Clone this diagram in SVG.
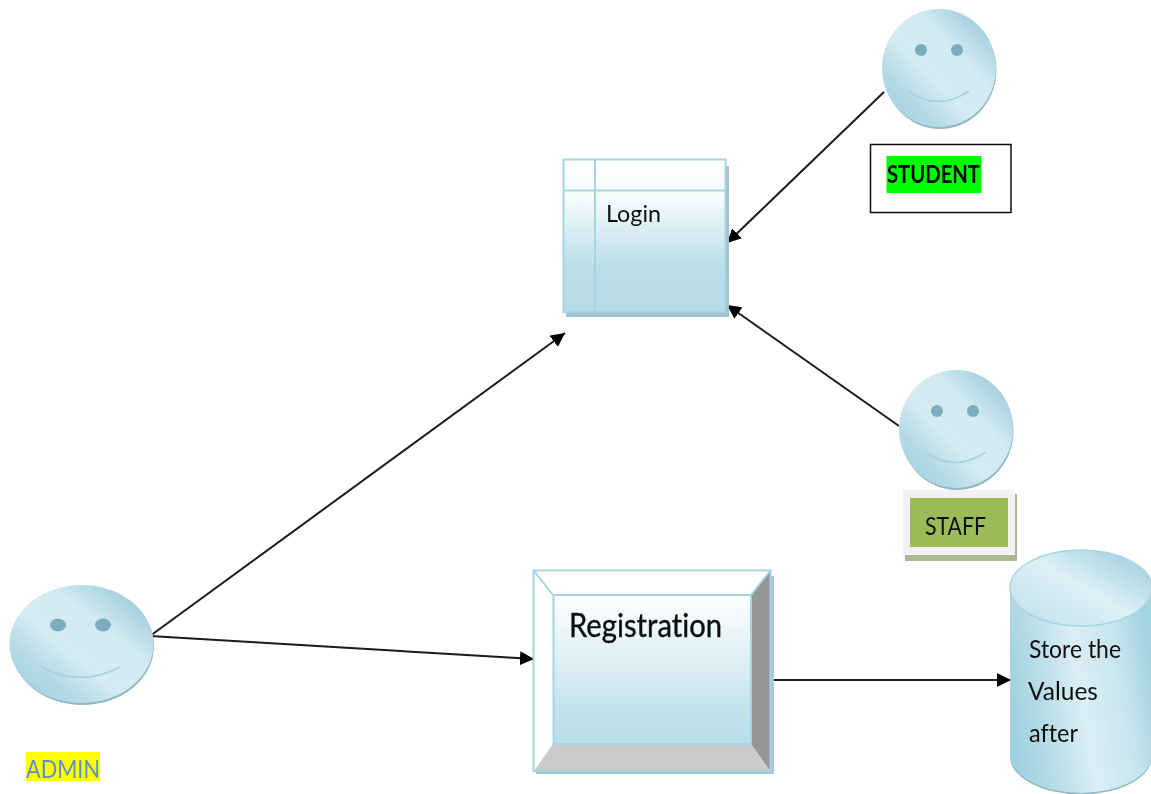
<svg xmlns="http://www.w3.org/2000/svg" width="1151" height="794" viewBox="0 0 1151 794">
<style>
.t{font-family:"Lato","Open Sans","Liberation Sans",sans-serif;fill:#111;font-variant-ligatures:none}
.eye{fill:#7aaebf}
.smile{fill:none;stroke:#a4d3e0;stroke-width:1.6}
.edge{fill:none;stroke:#1a1a1a;stroke-width:2;marker-end:url(#arrow)}
.blue{stroke:#a5d5e2;stroke-width:2}
</style>
<defs>
<filter id="soft" x="0" y="0" width="100%" height="100%" filterUnits="userSpaceOnUse" primitiveUnits="userSpaceOnUse"><feGaussianBlur stdDeviation="0.45"/></filter>
<marker id="arrow" markerUnits="userSpaceOnUse" markerWidth="16" markerHeight="15" refX="14" refY="7" orient="auto"><path d="M0 0L14 7L0 14Z" fill="#000"/></marker>
<linearGradient id="face" x1="0.05" y1="0.95" x2="0.95" y2="0.05"><stop offset="0" stop-color="#9dcfde"/><stop offset=".22" stop-color="#b5dae6"/><stop offset=".42" stop-color="#d5ebf2"/><stop offset=".66" stop-color="#d3eaf2"/><stop offset=".9" stop-color="#a4d0de"/><stop offset="1" stop-color="#98c9d9"/></linearGradient>
<linearGradient id="body" x1="0" y1="0.62" x2="1" y2="0.38"><stop offset="0" stop-color="#9fd0df"/><stop offset=".2" stop-color="#b4dbe6"/><stop offset=".5" stop-color="#daeef4"/><stop offset=".8" stop-color="#c6e4ed"/><stop offset="1" stop-color="#a3d2e0"/></linearGradient>
<linearGradient id="top" x1="0.1" y1="0.9" x2="0.95" y2="0.1"><stop offset="0" stop-color="#c4e2ec"/><stop offset=".5" stop-color="#dcf0f5"/><stop offset="1" stop-color="#a0cfde"/></linearGradient>
<linearGradient id="box" x1="0" y1="0" x2="0" y2="1"><stop offset="0" stop-color="#fff"/><stop offset=".25" stop-color="#f6fbfc"/><stop offset=".7" stop-color="#badfe9"/><stop offset="1" stop-color="#b7dce7"/></linearGradient>
<linearGradient id="box2" x1="0" y1="0" x2="0" y2="1"><stop offset="0" stop-color="#fff"/><stop offset=".85" stop-color="#bde0ea"/><stop offset="1" stop-color="#b9dee8"/></linearGradient>
</defs>
<rect width="1151" height="794" fill="#fff"/>
<g filter="url(#soft)">
<g id="connectors">
<path class="edge" d="M150 636L565 333"/>
<path class="edge" d="M150 636L534 659"/>
<path class="edge" d="M771 680L1011 680"/>
<path class="edge" d="M884 92L727 243"/>
<path class="edge" d="M899 426L727 305"/>
</g>
<g id="login">
<rect x="566" y="166" width="163" height="151" fill="#9fc3cf"/>
<rect x="563.500" y="159.500" width="162" height="152.500" fill="url(#box)" class="blue"/>
<path d="M595 160V312M564 190.500H726" class="blue" fill="none"/>
<text class="t" x="606" y="222" font-size="24" textLength="55" lengthAdjust="spacingAndGlyphs">Login</text>
</g>
<g id="student">
<ellipse cx="940" cy="70" rx="56.500" ry="59" fill="#8fb7c4"/>
<ellipse cx="939" cy="68" rx="57" ry="59" fill="url(#face)"/>
<circle class="eye" cx="921" cy="50" r="6"/><circle class="eye" cx="957" cy="50" r="6"/>
<path class="smile" d="M908 91Q938 112 969 91"/>
<rect x="870.500" y="144.500" width="140.500" height="68" fill="#fff" stroke="#111" stroke-width="1.500"/>
<rect x="886.500" y="156" width="95" height="37" fill="#00ff00"/>
<text class="t" x="887" y="183" font-size="25" font-weight="700" style="fill:#000" textLength="93" lengthAdjust="spacingAndGlyphs">STUDENT</text>
</g>
<g id="staff">
<ellipse cx="957" cy="431" rx="56.500" ry="59" fill="#8fb7c4"/>
<ellipse cx="956" cy="429" rx="57" ry="59" fill="url(#face)"/>
<circle class="eye" cx="937" cy="411" r="6"/><circle class="eye" cx="973" cy="411" r="6"/>
<path class="smile" d="M925 452Q955 473 986 452"/>
<rect x="905" y="494" width="112" height="67" fill="#acb893"/>
<rect x="903" y="490" width="112" height="65" fill="#f2f2f2"/>
<rect x="910" y="498" width="98" height="49" fill="#9bbb59"/>
<text class="t" x="925" y="535" font-size="25" textLength="61" lengthAdjust="spacingAndGlyphs">STAFF</text>
</g>
<g id="store">
<path d="M1010 588V755A71 38 0 0 0 1152 755V588Z" fill="#8fb7c4" transform="translate(0 1.500)"/>
<path d="M1010 588V755A71 38 0 0 0 1152 755V588Z" fill="url(#body)"/>
<ellipse cx="1081" cy="588" rx="71" ry="38" fill="url(#top)" stroke="#a5d5e2" stroke-width="1.500"/>
<text class="t" x="1029" y="658" font-size="25" textLength="92" lengthAdjust="spacingAndGlyphs">Store the</text>
<text class="t" x="1028" y="700" font-size="25" textLength="70" lengthAdjust="spacingAndGlyphs">Values</text>
<text class="t" x="1029" y="742" font-size="25" textLength="49" lengthAdjust="spacingAndGlyphs">after</text>
</g>
<g id="registration">
<rect x="536" y="576" width="238" height="198" fill="#a9c6cf"/>
<rect x="533.500" y="570.500" width="237" height="200.500" fill="#fff"/>
<path d="M751 595L770 571V771L751 744Z" fill="#969696"/>
<path d="M553 744H751L770 771H534Z" fill="#cbcbcb"/>
<rect x="553.500" y="595" width="197.500" height="149" fill="url(#box2)" class="blue"/>
<path d="M534 571L553 595M770 571L751 595" class="blue" fill="none"/>
<rect x="533.500" y="570.500" width="237" height="200.500" fill="none" class="blue"/>
<text class="t" x="569" y="637" font-size="33" style="stroke:#111;stroke-width:.4" textLength="153" lengthAdjust="spacingAndGlyphs">Registration</text>
</g>
<g id="admin">
<ellipse cx="82.500" cy="646" rx="71.500" ry="59" fill="#8fb7c4"/>
<ellipse cx="81.500" cy="644" rx="72" ry="59" fill="url(#face)"/>
<ellipse class="eye" cx="58" cy="625" rx="8" ry="6.500"/><ellipse class="eye" cx="103" cy="625" rx="8" ry="6.500"/>
<path class="smile" d="M42 667Q80 688 120 667"/>
<rect x="26" y="752" width="74" height="29" fill="#ffff00"/>
<text class="t" x="26" y="778" font-size="25" style="fill:#5c8fd0" textLength="74" lengthAdjust="spacingAndGlyphs">ADMIN</text>
</g>
</g>
</svg>
